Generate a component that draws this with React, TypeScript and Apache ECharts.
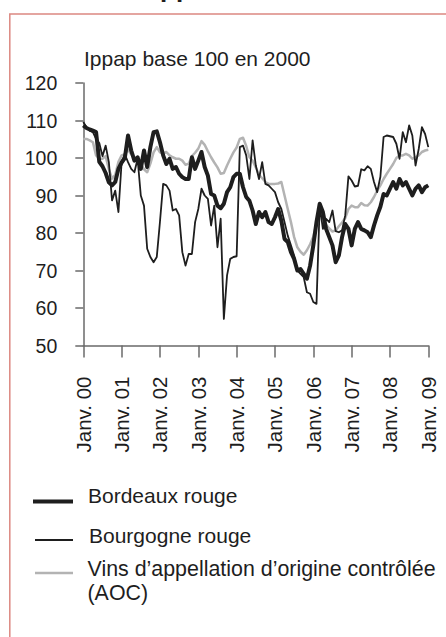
import React, { useEffect, useRef } from "react";
import * as echarts from "echarts";

const monthNames = ["Janv.", "Févr.", "Mars", "Avr.", "Mai", "Juin", "Juil.", "Août", "Sept.", "Oct.", "Nov.", "Déc."];
const yearCodes = ["00", "01", "02", "03", "04", "05", "06", "07", "08", "09"];
const categories: string[] = [];
yearCodes.forEach((y) => monthNames.forEach((m) => categories.push(m + " " + y)));
categories.length = 109;

const bordeaux = [
  108.7, 108, 107.6, 107.3, 106.9, 99, 97.8, 96, 93.5, 92.7, 93.6, 97.1,
  98.8, 100, 106, 102, 99.3, 100.2, 97.1, 102, 97.6, 102.9, 106.9, 107.1,
  104.2, 100.7, 98.4, 99.8, 97.1, 97.6, 95.8, 94.9, 94.4, 94.4, 100.2, 97.1,
  99.3, 101.6, 97.6, 95.3, 90.4, 90, 87.3, 86.6, 87.8, 90.9, 92.2, 94.9,
  95.8, 95.8, 92.2, 89.6, 88.6, 86, 82.4, 85.6, 84.2, 85.6, 82.9, 82.4,
  84.2, 86.4, 83.3, 78.4, 77.6, 74.9, 73.1, 70, 70.4, 69.1, 67.8, 71.3,
  76.7, 82.9, 87.8, 85.6, 81.1, 78.9, 76.7, 72.2, 74, 78.9, 82.4, 81.1,
  76.7, 81.1, 82.9, 81.1, 80.7, 80.2, 78.9, 82, 84.7, 87, 90.4, 90,
  91.8, 93.6, 91.8, 94.4, 92.7, 93.6, 91.8, 90, 91.8, 92.7, 90.9, 92.2,
  92.7,
];

const bourgogne = [
  109.6, 108.2, 107.3, 106.9, 105.1, 104, 100.5, 103.3, 98.9, 88.7, 91.3, 85.6,
  99, 101, 98.9, 97.1, 96.2, 99.8, 90, 87.3, 75.8, 73.6, 72.2, 73.6,
  83, 93.1, 92.7, 91.3, 86, 86.4, 84.7, 74.9, 71.3, 74.4, 74.4, 82.9,
  86.4, 91.8, 90, 89.1, 82, 87.3, 76.2, 83.8, 57.1, 68.7, 73.1, 73.6,
  73.8, 102.9, 103.3, 100.7, 94.4, 104.7, 98, 94.4, 98.9, 93.1, 92.7, 91.8,
  90.9, 88.2, 86.4, 82.9, 79.3, 76.7, 74, 70, 69.1, 68.2, 64.2, 63.8,
  61.6, 61.1, 87.3, 81.1, 83.8, 82.9, 86, 80.5, 80.2, 80.7, 84.7, 95.1,
  94, 92.4, 92.6, 97, 96.7, 97.8, 97.1, 93.6, 90.9, 95, 105.6, 106,
  105.8, 105.6, 103.8, 99.8, 106.9, 104.2, 108.7, 106, 98, 102.4, 108.2, 106.4,
  102.9,
];

const aoc = [
  105.1, 105.1, 104.7, 104.2, 100.7, 99.8, 99.8, 100.5, 97, 94.5, 95.5, 99,
  100.7, 101, 102.2, 101, 100, 99.5, 98.3, 97, 96.2, 98.5, 101.5, 102.9,
  101.5, 101.2, 101.6, 100.7, 100.2, 99.8, 99.8, 99.3, 98.2, 98.5, 100.5, 101.4,
  102.5, 104.5, 103.5, 101.8, 100.2, 98.8, 97.5, 95.8, 96, 98, 99.8, 101.5,
  102.8, 105.1, 105.4, 103.2, 100.2, 99.3, 97.5, 95.5, 94.6, 93.6, 93.1, 93.1,
  93.1, 93.2, 93.6, 90, 86.4, 82.9, 78.9, 76.2, 75, 74.2, 75.4, 77,
  79, 82.5, 85.4, 84, 82.2, 81.2, 80.4, 80.7, 81.8, 82.8, 84, 86.4,
  87.3, 86.9, 86.9, 88, 87.4, 87.3, 88.2, 89.6, 91.3, 92.7, 94.4, 95.8,
  97.1, 98.4, 100, 100.7, 100.7, 101.1, 100.7, 99.8, 100.2, 100.7, 101.6, 102,
  102.2,
];

const seriesNames = ["Bordeaux rouge", "Bourgogne rouge", "Vins d’appellation d’origine contrôlée\n(AOC)"];
const subtitle = "Ippap base 100 en 2000";

const FONT = '"Liberation Sans", Arial, sans-serif';
const TXT = "#1e1e1e";
const AX = "#6a6a6a";

export default function App() {
  const ref = useRef<HTMLDivElement>(null);
  useEffect(() => {
    if (!ref.current) return;
    const chart = echarts.init(ref.current, undefined, { renderer: "svg" });
    chart.setOption({
      animation: false,
      backgroundColor: "#ffffff",
      grid: { left: 83.3, right: 17.7, top: 83, bottom: 291.5, containLabel: false },
      xAxis: {
        type: "category",
        data: categories,
        boundaryGap: false,
        axisLine: { lineStyle: { color: AX, width: 1.5 } },
        axisTick: { interval: 11, length: 12, lineStyle: { color: AX, width: 1.5 } },
        axisLabel: {
          interval: 11,
          rotate: 90,
          margin: 31,
          fontSize: 20.5,
          fontFamily: FONT,
          color: TXT,
        },
        splitLine: { show: false },
      },
      yAxis: {
        type: "value",
        min: 50,
        max: 120,
        interval: 10,
        axisLine: { show: true, lineStyle: { color: AX, width: 1.5 } },
        axisTick: { show: true, length: 8, lineStyle: { color: AX, width: 1.5 } },
        axisLabel: { margin: 26, fontSize: 19.5, fontFamily: FONT, color: TXT },
        splitLine: { show: false },
      },
      series: [
        {
          name: seriesNames[2],
          type: "line",
          data: aoc,
          symbol: "none",
          lineStyle: { color: "#b3b3b3", width: 2.5, join: "round" },
          z: 1,
        },
        {
          name: seriesNames[1],
          type: "line",
          data: bourgogne,
          symbol: "none",
          lineStyle: { color: "#1e1e1e", width: 1.8, join: "round" },
          z: 2,
        },
        {
          name: seriesNames[0],
          type: "line",
          data: bordeaux,
          symbol: "none",
          lineStyle: { color: "#1e1e1e", width: 4, join: "round" },
          z: 3,
        },
      ],
      graphic: [
        {
          type: "rect",
          shape: { x: 9.8, y: 14, width: 460, height: 700 },
          style: { fill: "none", stroke: "#dc8881", lineWidth: 1.5 },
          silent: true,
        },
        {
          type: "text",
          x: 160,
          y: -25,
          style: { text: "pp", font: "bold 26px " + FONT, fill: TXT, verticalAlign: "top" },
        },
        {
          type: "text",
          x: 84,
          y: 58,
          style: { text: subtitle, fontSize: 21, fontFamily: FONT, fill: TXT, verticalAlign: "middle" },
        },
        { type: "line", shape: { x1: 33, y1: 501.5, x2: 73, y2: 501.5 }, style: { stroke: "#1e1e1e", lineWidth: 4 } },
        { type: "text", x: 88, y: 495, style: { text: seriesNames[0], fontSize: 21, fontFamily: FONT, fill: TXT, verticalAlign: "middle" } },
        { type: "line", shape: { x1: 35, y1: 540, x2: 73, y2: 540 }, style: { stroke: "#1e1e1e", lineWidth: 2 } },
        { type: "text", x: 89, y: 535.5, style: { text: seriesNames[1], fontSize: 21, fontFamily: FONT, fill: TXT, verticalAlign: "middle" } },
        { type: "line", shape: { x1: 35, y1: 573, x2: 73, y2: 573 }, style: { stroke: "#b3b3b3", lineWidth: 2.5 } },
        {
          type: "text",
          x: 87.5,
          y: 580.8,
          style: { text: seriesNames[2], fontSize: 21.4, lineHeight: 24, fontFamily: FONT, fill: TXT, verticalAlign: "middle" },
        },
      ],
    });
    return () => chart.dispose();
  }, []);
  return <div ref={ref} style={{ position: "fixed", left: 0, top: 0, width: 446, height: 637 }} />;
}
